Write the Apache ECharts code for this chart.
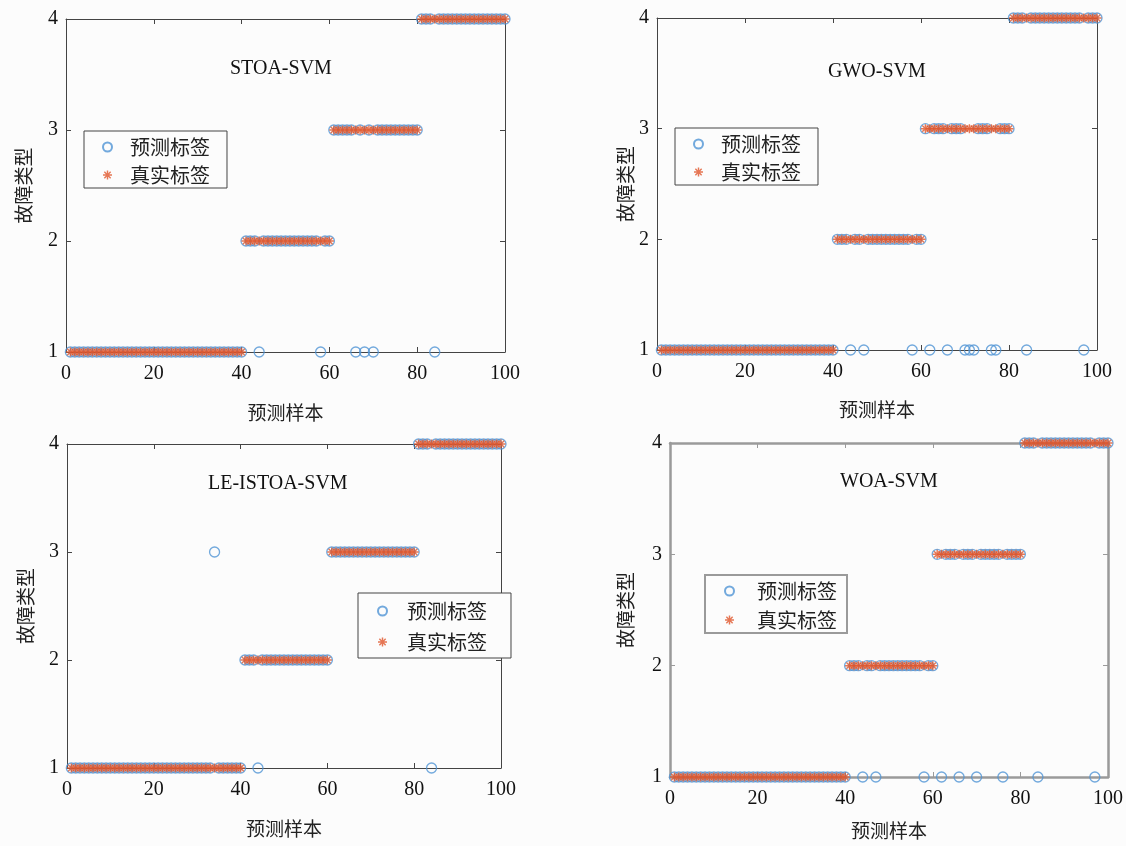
<!DOCTYPE html>
<html>
<head>
<meta charset="utf-8">
<script src="https://cdn.jsdelivr.net/npm/echarts@6/dist/echarts.min.js"></script>
<style>
html, body { margin: 0; padding: 0; background: #fcfcfc; }
#chart { width: 1126px; height: 846px; }
</style>
</head>
<body>
<div id="chart"></div>
<script>
// tick labels and names
const xTicks = [0, 20, 40, 60, 80, 100]
const yTicks = [1, 2, 3, 4]
const panelTitles = ['STOA-SVM', 'GWO-SVM', 'LE-ISTOA-SVM', 'WOA-SVM']
const legendNames = ['预测标签', '真实标签']

// true labels of the 100 test samples
const trueLabel = [
  1,1,1,1,1,1,1,1,1,1,1,1,1,1,1,1,1,1,1,1,
  1,1,1,1,1,1,1,1,1,1,1,1,1,1,1,1,1,1,1,1,
  2,2,2,2,2,2,2,2,2,2,2,2,2,2,2,2,2,2,2,2,
  3,3,3,3,3,3,3,3,3,3,3,3,3,3,3,3,3,3,3,3,
  4,4,4,4,4,4,4,4,4,4,4,4,4,4,4,4,4,4,4,4,
]

// predicted labels per model
const stoaPred = [
  1,1,1,1,1,1,1,1,1,1,1,1,1,1,1,1,1,1,1,1,
  1,1,1,1,1,1,1,1,1,1,1,1,1,1,1,1,1,1,1,1,
  2,2,2,1,2,2,2,2,2,2,2,2,2,2,2,2,2,1,2,2,
  3,3,3,3,3,1,3,1,3,1,3,3,3,3,3,3,3,3,3,3,
  4,4,4,1,4,4,4,4,4,4,4,4,4,4,4,4,4,4,4,4,
]
const gwoPred = [
  1,1,1,1,1,1,1,1,1,1,1,1,1,1,1,1,1,1,1,1,
  1,1,1,1,1,1,1,1,1,1,1,1,1,1,1,1,1,1,1,1,
  2,2,2,1,2,2,1,2,2,2,2,2,2,2,2,2,2,1,2,2,
  3,1,3,3,3,1,3,3,3,1,1,1,3,3,3,1,1,3,3,3,
  4,4,4,1,4,4,4,4,4,4,4,4,4,4,4,4,1,4,4,4,
]
const leistoaPred = [
  1,1,1,1,1,1,1,1,1,1,1,1,1,1,1,1,1,1,1,1,
  1,1,1,1,1,1,1,1,1,1,1,1,1,3,1,1,1,1,1,1,
  2,2,2,1,2,2,2,2,2,2,2,2,2,2,2,2,2,2,2,2,
  3,3,3,3,3,3,3,3,3,3,3,3,3,3,3,3,3,3,3,3,
  4,4,4,1,4,4,4,4,4,4,4,4,4,4,4,4,4,4,4,4,
]
const woaPred = [
  1,1,1,1,1,1,1,1,1,1,1,1,1,1,1,1,1,1,1,1,
  1,1,1,1,1,1,1,1,1,1,1,1,1,1,1,1,1,1,1,1,
  2,2,2,1,2,2,1,2,2,2,2,2,2,2,2,2,2,1,2,2,
  3,1,3,3,3,1,3,3,3,1,3,3,3,3,3,1,3,3,3,3,
  4,4,4,1,4,4,4,4,4,4,4,4,4,4,4,4,1,4,4,4,
]
const predicted = [stoaPred, gwoPred, leistoaPred, woaPred]

const BLUE = '#4f94d4'
const ORANGE = '#e0552a'
// matlab-like '*' marker: four thin bars
const STAR = 'path://M-1,-0.16L1,-0.16L1,0.16L-1,0.16Z' +
  'M-0.16,-1L0.16,-1L0.16,1L-0.16,1Z' +
  'M-0.59,-0.81L0.81,0.59L0.59,0.81L-0.81,-0.59Z' +
  'M-0.81,0.59L0.59,-0.81L0.81,-0.59L-0.59,0.81Z'
const SERIF = 'Liberation Serif'
const CJK = 'Noto Sans CJK SC'

const grids = [
  { left: 66, top: 19, width: 439, height: 333 },
  { left: 657, top: 18, width: 440, height: 332 },
  { left: 67, top: 444, width: 434, height: 324 },
  { left: 670, top: 443, width: 438, height: 334 },
]
const titlePos = [[230, 59], [828, 62], [208, 474], [840, 472]]
const xNameGap = [51, 50, 51, 44]
const yNameGap = [33, 22, 32, 35]
const legendCfg = [
  { left: 84, top: 131, padding: [6, 17, 3, 18], itemGap: 8, textPad: 5 },
  { left: 675, top: 128, padding: [6, 17, 3, 18], itemGap: 8, textPad: 5 },
  { left: 358, top: 593, padding: [8, 24, 6, 19], itemGap: 11, textPad: 7 },
  { left: 705, top: 575, padding: [6, 10, 3, 19], itemGap: 9, textPad: 10 },
]
// the WOA panel has a heavier grey frame
const frameColor = ['#444', '#444', '#444', '#9a9a9a']
const frameWidth = [1, 1, 1, 2.5]

const chart = echarts.init(document.getElementById('chart'))

const xAxis = []
const yAxis = []
const series = []
grids.forEach((g, i) => {
  const line = { show: true, onZero: false, lineStyle: { color: frameColor[i], width: frameWidth[i] } }
  const tick = { inside: true, length: 5, lineStyle: { color: frameColor[i] } }
  xAxis[i] = {
    type: 'value', gridIndex: i, min: 0, max: 100, interval: 20,
    axisLine: line, axisTick: tick, splitLine: { show: false },
    axisLabel: {
      margin: 12, color: '#111', fontFamily: SERIF, fontSize: 20,
      formatter: v => (xTicks.includes(v) ? String(v) : ''),
    },
    name: '预测样本', nameLocation: 'middle', nameGap: xNameGap[i],
    nameTextStyle: { color: '#222', fontFamily: CJK, fontSize: 19 },
  }
  xAxis[i + 4] = {
    type: 'value', gridIndex: i, position: 'top', min: 0, max: 100, interval: 20,
    axisLine: line, axisTick: tick, axisLabel: { show: false },
    splitLine: { show: false },
  }
  yAxis[i] = {
    type: 'value', gridIndex: i, min: 1, max: 4, interval: 1,
    axisLine: line, axisTick: tick, splitLine: { show: false },
    axisLabel: {
      margin: 8, color: '#111', fontFamily: SERIF, fontSize: 20,
      formatter: v => (yTicks.includes(v) ? String(v) : ''),
    },
    name: '故障类型', nameLocation: 'middle', nameGap: yNameGap[i],
    nameTextStyle: { color: '#222', fontFamily: CJK, fontSize: 19 },
  }
  yAxis[i + 4] = {
    type: 'value', gridIndex: i, position: 'right', min: 1, max: 4, interval: 1,
    axisLine: line, axisTick: tick, axisLabel: { show: false },
    splitLine: { show: false },
  }
  series.push({
    name: legendNames[0], type: 'scatter', xAxisIndex: i, yAxisIndex: i,
    symbol: 'circle', symbolSize: 10, clip: false,
    itemStyle: { color: 'rgba(0,0,0,0)', borderColor: BLUE, borderWidth: 1.3 },
    data: predicted[i].map((v, k) => [k + 1, v]),
  })
  series.push({
    name: legendNames[1], type: 'scatter', xAxisIndex: i, yAxisIndex: i,
    symbol: STAR, symbolSize: 9, clip: false,
    itemStyle: { color: ORANGE },
    data: trueLabel.map((v, k) => [k + 1, v]),
  })
})

chart.setOption({
  backgroundColor: '#fcfcfc',
  animation: false,
  title: panelTitles.map((t, i) => ({
    text: t, left: titlePos[i][0], top: titlePos[i][1], padding: 0,
    textStyle: { fontFamily: SERIF, fontSize: 20, fontWeight: 'normal', color: '#111' },
  })),
  legend: legendCfg.map((c, i) => ({
    left: c.left,
    top: c.top,
    padding: c.padding,
    itemGap: c.itemGap,
    orient: 'vertical',
    itemHeight: 9,
    data: legendNames,
    selectedMode: false,
    backgroundColor: '#fcfcfc',
    borderColor: frameColor[i],
    borderWidth: frameWidth[i] > 1 ? 2 : 1,
    textStyle: {
      fontFamily: CJK, fontSize: 20, lineHeight: 20, color: '#222',
      padding: [0, 0, 0, c.textPad],
    },
  })),
  grid: grids,
  xAxis,
  yAxis,
  series,
})
</script>
</body>
</html>
